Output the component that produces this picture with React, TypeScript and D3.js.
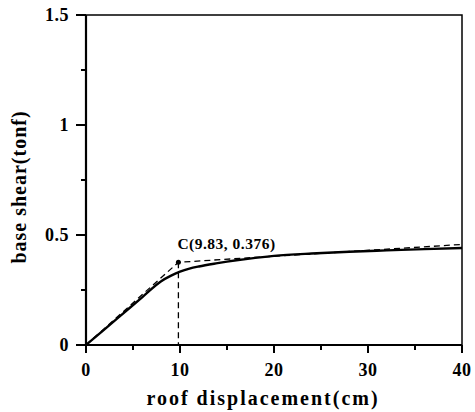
import * as d3 from "d3";

const xTicks = [0, 10, 20, 30, 40];
const xMinor = [5, 15, 25, 35];
const yTicks = [0, 0.5, 1, 1.5];
const yTickLabels = ["0", "0.5", "1", "1.5"];
const yMinor = [0.25, 0.75, 1.25];

// pushover curve (solid)
const curveX = [0, 2, 4, 6, 8, 9, 10, 11, 12, 14, 16, 18, 20, 24, 28, 32, 36, 40];
const curveY = [0, 0.072, 0.145, 0.218, 0.29, 0.314, 0.333, 0.347, 0.357, 0.372, 0.385, 0.396, 0.405, 0.416, 0.424, 0.43, 0.436, 0.441];

// bilinear idealisation (dashed)
const biX = [0, 9.83, 40];
const biY = [0, 0.376, 0.457];

const pointC = { x: 9.83, y: 0.376, label: "C(9.83, 0.376)" };

const W = 475;
const H = 412;
const left = 86;
const right = 462;
const top = 15;
const bottom = 345;
const font = "'Liberation Serif', 'Times New Roman', serif";

export default function App() {
  const x = d3.scaleLinear().domain([0, 40]).range([left, right]);
  const y = d3.scaleLinear().domain([0, 1.5]).range([bottom, top]);

  const line = d3
    .line<number>()
    .x((_, i) => x(curveX[i]))
    .y((d) => y(d))
    .curve(d3.curveMonotoneX);
  const biLine = d3
    .line<number>()
    .x((_, i) => x(biX[i]))
    .y((d) => y(d));

  return (
    <svg
      width={W}
      height={H}
      style={{ position: "absolute", left: 0, top: 0, background: "#fff" }}
      fontFamily={font}
      fontWeight="bold"
    >
      <rect x={left} y={top} width={right - left} height={bottom - top} fill="none" stroke="#000" strokeWidth={1.5} />
      <line x1={left} x2={left} y1={top} y2={bottom} stroke="#000" strokeWidth={2.2} />
      <line x1={left} x2={right} y1={bottom} y2={bottom} stroke="#000" strokeWidth={2.2} />

      {xTicks.map((t) => (
        <g key={"x" + t}>
          <line x1={x(t)} x2={x(t)} y1={bottom} y2={bottom + 8} stroke="#000" strokeWidth={2} />
          <text x={x(t)} y={bottom + 31} textAnchor="middle" fontSize={18} letterSpacing={0.5}>
            {t}
          </text>
        </g>
      ))}
      {xMinor.map((t) => (
        <line key={"xm" + t} x1={x(t)} x2={x(t)} y1={bottom} y2={bottom + 5} stroke="#000" strokeWidth={2} />
      ))}
      {yTicks.map((t, i) => (
        <g key={"y" + t}>
          <line x1={left - 10} x2={left} y1={y(t)} y2={y(t)} stroke="#000" strokeWidth={2} />
          <text x={left - 17} y={y(t) + 6} textAnchor="end" fontSize={18} letterSpacing={0.5}>
            {yTickLabels[i]}
          </text>
        </g>
      ))}
      {yMinor.map((t) => (
        <line key={"ym" + t} x1={left - 5} x2={left} y1={y(t)} y2={y(t)} stroke="#000" strokeWidth={2} />
      ))}

      <path d={biLine(biY) ?? ""} fill="none" stroke="#000" strokeWidth={1.3} strokeDasharray="6,4" />
      <line x1={x(pointC.x)} x2={x(pointC.x)} y1={y(pointC.y)} y2={bottom} stroke="#000" strokeWidth={1.3} strokeDasharray="6,4" />
      <path d={line(curveY) ?? ""} fill="none" stroke="#000" strokeWidth={2.4} />
      <circle cx={x(pointC.x)} cy={y(pointC.y)} r={2.5} fill="#000" />
      <text x={x(pointC.x) - 1} y={y(pointC.y) - 13} fontSize={15.5} letterSpacing={0.5}>
        {pointC.label}
      </text>

      <text x={263} y={405} textAnchor="middle" fontSize={20} letterSpacing={2}>
        roof displacement(cm)
      </text>
      <text transform={`translate(26, 187) rotate(-90)`} textAnchor="middle" fontSize={20} letterSpacing={1}>
        base shear(tonf)
      </text>
    </svg>
  );
}
